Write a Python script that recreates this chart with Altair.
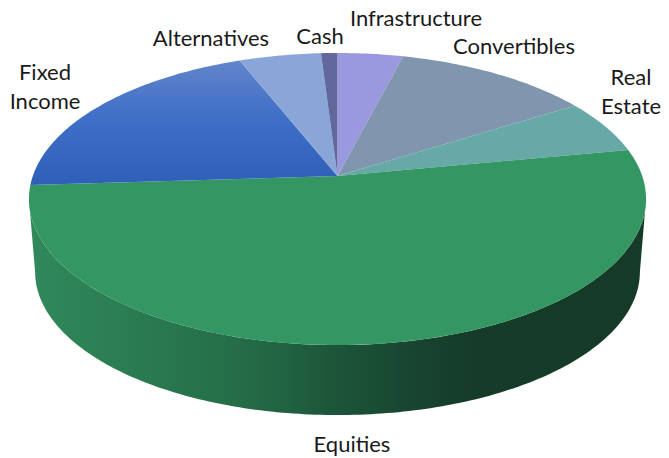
import math
import altair as alt

LABELS = ["Infrastructure", "Convertibles", "Real Estate", "Equities", "Fixed Income", "Alternatives", "Cash"]
SHARES = [4, 12, 6, 52, 20, 5, 1]
COLORS = ["#9a99e0", "#8095ae", "#66a9a7", "#339663", None, "#8aa6d8", "#62679c"]

TEXT_TOP = "#1a1a1a"
TEXT_POS = {
    "Infrastructure": (416, 19), "Convertibles": (514, 47), "Real\nEstate": (631, 78),
    "Equities": (352, 445), "Fixed\nIncome": (45, 73), "Alternatives": (211, 39), "Cash": (320, 37),
}

# Pie geometry in page pixels; the page margin is subtracted
CX, CY, A, B, K = 337.5, 176.0, 142.4, 304.7, 0.1575
M = 8


def project(theta_deg, scale=1.0, cy=CY):
    t = math.radians(theta_deg)
    u, v = math.sin(t), math.cos(t)
    d = 1 + K * v
    return [CX + scale * B * u / d - M, cy - scale * A * v / d - M]


def feature(ring):
    return {"type": "Feature", "properties": {},
            "geometry": {"type": "Polygon", "coordinates": [ring + [ring[0]]]}}


def shape(ring, fill):
    return alt.Chart(alt.Data(values=[feature(ring)])).mark_geoshape(
        fill=fill, strokeWidth=0).project(type="identity", scale=1, translate=[0, 0])


layers = []

# Side wall
limit = math.degrees(math.acos(-K))
steps = [limit + i * (360 - 2 * limit) / 180 for i in range(181)]
wall = [project(a) for a in steps] + [project(a, 0.98, 249.4) for a in reversed(steps)]
side_grad = alt.Gradient(
    gradient="linear", x1=0, x2=1, y1=0, y2=0,
    stops=[
        alt.GradientStop(offset=0.0, color="#30895b"),
        alt.GradientStop(offset=0.15, color="#2b7d52"),
        alt.GradientStop(offset=0.35, color="#246c47"),
        alt.GradientStop(offset=0.5, color="#1c5539"),
        alt.GradientStop(offset=0.62, color="#184530"),
        alt.GradientStop(offset=0.72, color="#153c29"),
        alt.GradientStop(offset=1.0, color="#153a28"),
    ],
)
layers.append(shape(wall, side_grad))

fixed_grad = alt.Gradient(
    gradient="linear", x1=0, x2=0, y1=0, y2=1,
    stops=[
        alt.GradientStop(offset=0.0, color="#6285cb"),
        alt.GradientStop(offset=0.45, color="#3f6fc7"),
        alt.GradientStop(offset=1.0, color="#2f60b7"),
    ],
)

# Top slices
start = 0.0
total = sum(SHARES)
for share, col in zip(SHARES, COLORS):
    end = start + share / total * 360
    n = max(4, int(end - start))
    ring = [[CX - M, CY - M]] + [project(start + i * (end - start) / n) for i in range(n + 1)]
    layers.append(shape(ring, col if col else fixed_grad))
    start = end

# Labels
for text, (x, y) in TEXT_POS.items():
    layers.append(
        alt.Chart(alt.Data(values=[{}])).mark_text(
            font="Lato", fontSize=22, color=TEXT_TOP, align="center", baseline="middle",
            lineBreak="\n", lineHeight=29,
        ).encode(x=alt.value(x - M), y=alt.value(y - M), text=alt.value(text))
    )

chart = alt.layer(*layers).properties(
    width=653, height=449, padding=0, autosize=alt.AutoSizeParams(type="none")
).configure_view(stroke=None)

chart.save("out.html", embed_options={"renderer": "svg", "actions": False})
